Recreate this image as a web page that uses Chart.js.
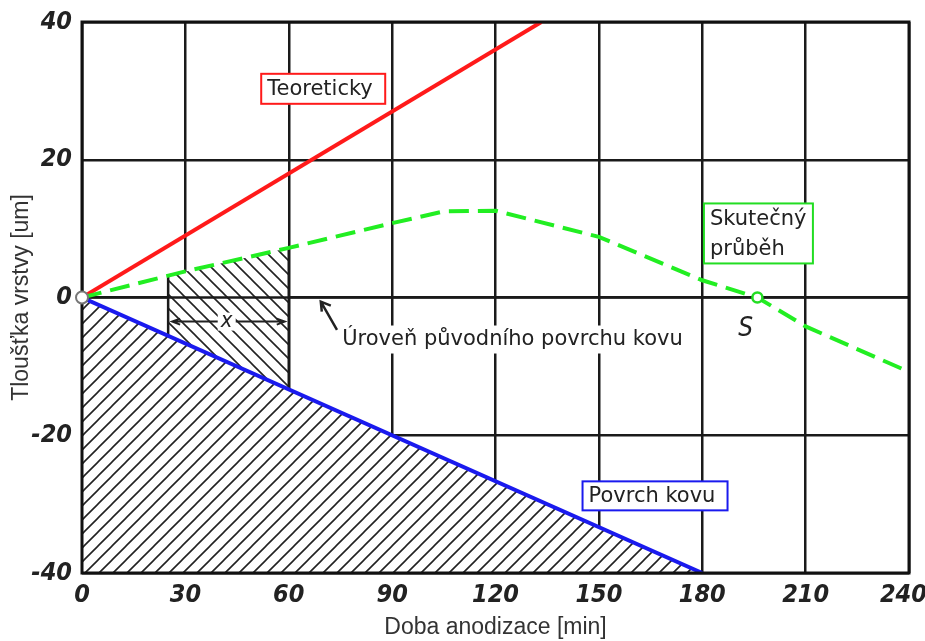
<!DOCTYPE html>
<html>
<head>
<meta charset="utf-8">
<script src="https://cdn.jsdelivr.net/npm/chart.js@4.4.1/dist/chart.umd.min.js"></script>
<style>
  html, body { margin: 0; padding: 0; background: #fff; }
</style>
</head>
<body>
<canvas id="chart" width="925" height="641"></canvas>
<script>
// values
const theoryTime = [0, 133.3];
const theoryThick = [0, 40];
const surfaceTime = [0, 180];
const surfaceThick = [0, -40];
const realTime = [0, 30, 60, 90, 105, 120, 150, 180, 196, 210, 240];
const realThick = [0, 3.8, 7.2, 10.8, 12.5, 12.6, 8.8, 2.5, 0, -4.2, -10.8];
const zoneTime = [25, 60];
const zoneTop = [3.2, 7.2];
const zoneBottom = [-5.6, -13.3];
const levelTime = [0, 240];
const levelThick = [0, 0];
const crossPoint = [196, 0];

//helper to zip two arrays into points
function pts(xs, ys){
    return xs.map((x, i) => ({x: x, y: ys[i]}));
}

//hatch pattern, dir 1 = "///", -1 = "\\\"
function hatch(dir){
    const s = 14;
    const c = document.createElement('canvas');
    c.width = s; c.height = s;
    const g = c.getContext('2d');
    g.fillStyle = '#fff';
    g.fillRect(0, 0, s, s);
    g.strokeStyle = '#222';
    g.lineWidth = 1.6;
    g.beginPath();
    if (dir > 0){
        g.moveTo(0, s); g.lineTo(s, 0);
        g.moveTo(-s/2, s/2); g.lineTo(s/2, -s/2);
        g.moveTo(s/2, s*1.5); g.lineTo(s*1.5, s/2);
    } else {
        g.moveTo(0, 0); g.lineTo(s, s);
        g.moveTo(-s/2, s/2); g.lineTo(s/2, s*1.5);
        g.moveTo(s/2, -s/2); g.lineTo(s*1.5, s/2);
    }
    g.stroke();
    return g.createPattern(c, 'repeat');
}

const ctx = document.getElementById('chart').getContext('2d');

const noPoint = {pointRadius: 0, pointHoverRadius: 0, tension: 0};

//annotation boxes (data position of centre, box size in px)
const boxes = [
    {x: 70, y: 30.3, w: 124, h: 30, color: '#ff1a1a', lines: ['Teoreticky']},
    {x: 196.3, y: 9.3, w: 109, h: 60, color: '#22dd22', lines: ['Skutečný', 'průběh']},
    {x: 166.3, y: -28.8, w: 145, h: 29, color: '#1a1aee', lines: ['Povrch kovu']}
];
const labelFont = '21px "DejaVu Sans", sans-serif';

const annotations = {
    id: 'annotations',
    afterDatasetsDraw(chart){
        const c = chart.ctx;
        const xs = chart.scales.x, ys = chart.scales.y;
        const a = chart.chartArea;
        const px = v => xs.getPixelForValue(v);
        const py = v => ys.getPixelForValue(v);
        c.save();

        //frame
        c.strokeStyle = '#111';
        c.lineWidth = 3;
        c.strokeRect(a.left, a.top, a.right - a.left, a.bottom - a.top);

        //x dimension inside the hatched zone
        const dy = py(-3.5);
        const x1 = px(zoneTime[0]) + 4, x2 = px(zoneTime[1]) - 4, xm = px(42);
        c.fillStyle = '#fff';
        c.fillRect(xm - 9, dy - 9, 18, 18);
        c.strokeStyle = '#222';
        c.lineWidth = 2;
        c.beginPath();
        c.moveTo(x1, dy); c.lineTo(xm - 9, dy);
        c.moveTo(xm + 9, dy); c.lineTo(x2, dy);
        c.moveTo(x1 + 8, dy - 3); c.lineTo(x1, dy); c.lineTo(x1 + 8, dy + 3);
        c.moveTo(x2 - 8, dy - 3); c.lineTo(x2, dy); c.lineTo(x2 - 8, dy + 3);
        c.stroke();
        c.fillStyle = '#222';
        c.font = 'italic 22px "DejaVu Sans Condensed", sans-serif';
        c.textAlign = 'center';
        c.textBaseline = 'middle';
        c.fillText('x', xm, dy);

        //original surface level label + arrow
        c.font = labelFont;
        c.textAlign = 'left';
        const tx = px(75.5), ty = py(-6.1);
        const tw = c.measureText('Úroveň původního povrchu kovu').width;
        c.fillStyle = '#fff';
        c.fillRect(tx - 2, ty - 14, tw + 4, 28);
        c.fillStyle = '#222';
        c.fillText('Úroveň původního povrchu kovu', tx, ty);
        const ax = px(69.3), ay = py(-0.6), bx = px(74), by = py(-4.7);
        c.strokeStyle = '#222';
        c.lineWidth = 2.5;
        c.beginPath();
        c.moveTo(bx, by); c.lineTo(ax, ay);
        c.moveTo(ax + 1, ay + 10); c.lineTo(ax, ay); c.lineTo(ax + 10, ay + 4);
        c.stroke();

        //S mark
        c.font = 'italic 26px "DejaVu Sans Condensed", sans-serif';
        c.textAlign = 'center';
        c.fillText('S', px(192.6), py(-4.6));

        //circles
        c.lineWidth = 2;
        c.strokeStyle = '#777';
        c.fillStyle = '#fff';
        c.beginPath();
        c.arc(px(0), py(0), 6, 0, Math.PI * 2);
        c.fill(); c.stroke();
        c.strokeStyle = '#22dd22';
        c.lineWidth = 2.5;
        c.beginPath();
        c.arc(px(crossPoint[0]), py(crossPoint[1]), 5, 0, Math.PI * 2);
        c.fill(); c.stroke();

        //legend boxes
        c.font = labelFont;
        c.textAlign = 'left';
        boxes.forEach(b => {
            const cx = px(b.x), cy = py(b.y);
            const l = cx - b.w / 2, t = cy - b.h / 2;
            c.fillStyle = '#fff';
            c.fillRect(l, t, b.w, b.h);
            c.strokeStyle = b.color;
            c.lineWidth = 2;
            c.strokeRect(l, t, b.w, b.h);
            c.fillStyle = '#222';
            const step = b.h / b.lines.length;
            b.lines.forEach((s, i) => {
                c.fillText(s, l + 6, t + step * (i + 0.5) + 1);
            });
        });

        c.restore();
    }
};

const tickFont = {family: '"DejaVu Sans Condensed", sans-serif', size: 25, style: 'italic', weight: 'bold'};
const titleFont = {family: '"Liberation Sans", Arial, sans-serif', size: 23, lineHeight: 1};

let myChart = new Chart(ctx, {
    type: 'line',
    data: {
        datasets: [
            {data: pts(realTime, realThick), borderColor: '#22ee22', borderWidth: 4, borderDash: [20, 9], fill: false, ...noPoint},
            {data: pts(theoryTime, theoryThick), borderColor: '#ff1a1a', borderWidth: 4, fill: false, ...noPoint},
            {data: pts(surfaceTime, surfaceThick), borderColor: '#1a1aee', borderWidth: 4, fill: 'start', backgroundColor: hatch(1), ...noPoint},
            {data: pts(levelTime, levelThick), borderColor: '#1a1a1a', borderWidth: 2.5, fill: false, ...noPoint},
            {data: pts([zoneTime[0], zoneTime[0]], [zoneTop[0], zoneBottom[0]]), borderColor: '#1a1a1a', borderWidth: 2.5, fill: false, ...noPoint},
            {data: pts([zoneTime[1], zoneTime[1]], [zoneTop[1], zoneBottom[1]]), borderColor: '#1a1a1a', borderWidth: 2.5, fill: false, ...noPoint},
            {data: pts(zoneTime, zoneTop), borderWidth: 0, borderColor: 'rgba(0,0,0,0)', fill: '+1', backgroundColor: hatch(-1), ...noPoint},
            {data: pts(zoneTime, zoneBottom), borderWidth: 0, borderColor: 'rgba(0,0,0,0)', fill: false, ...noPoint}
        ]
    },
    options: {
        responsive: false,
        animation: false,
        layout: {padding: {top: 22, right: 16, bottom: 0, left: 0}},
        plugins: {legend: {display: false}, tooltip: {enabled: false}},
        scales: {
            x: {
                type: 'linear', min: 0, max: 240,
                afterFit: s => { s.height = 68; s.paddingLeft = 0; s.paddingRight = 0; },
                ticks: {
                    stepSize: 30, color: '#222', font: tickFont, padding: 7, maxRotation: 0,
                    //last label sits a little inside the frame, like the original
                    callback: v => v === 240 ? '240\u2002' : String(v)
                },
                grid: {color: '#1a1a1a', lineWidth: 2.5, drawTicks: false},
                border: {display: false},
                title: {display: true, text: 'Doba anodizace [min]', color: '#333', font: titleFont, padding: {top: 0, bottom: 2}}
            },
            y: {
                type: 'linear', min: -40, max: 40,
                afterFit: s => { s.width = 82; s.paddingTop = 0; s.paddingBottom = 0; },
                ticks: {stepSize: 20, color: '#222', font: tickFont, padding: 10},
                grid: {color: '#1a1a1a', lineWidth: 2.5, drawTicks: false},
                border: {display: false},
                title: {display: true, text: 'Tloušťka vrstvy [um]', color: '#333', font: titleFont, padding: {top: 10.5, bottom: 0}}
            }
        }
    },
    plugins: [annotations]
});
</script>
</body>
</html>
